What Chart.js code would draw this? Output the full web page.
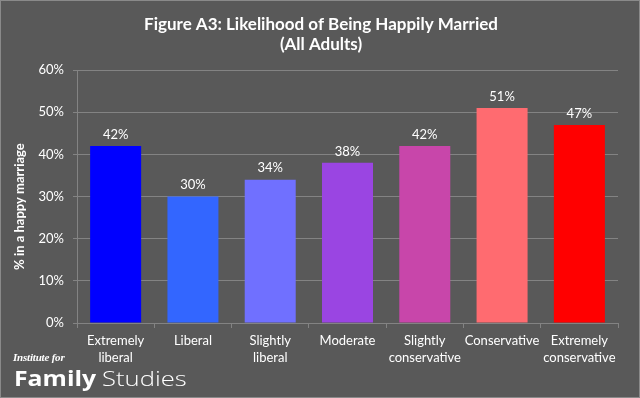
<!DOCTYPE html>
<html>
<head>
<meta charset="utf-8">
<script src="https://cdn.jsdelivr.net/npm/chart.js@4"></script>
<style>
  html, body { margin: 0; padding: 0; background: #595959; }
  #wrap { position: relative; width: 640px; height: 398px; background: #595959; border: 1px solid #8a8a8a; box-sizing: border-box; overflow: hidden; }
  #box { position: absolute; left: 0; top: 0; width: 640px; height: 398px; }
  .logo { position: absolute; color: #fff; white-space: nowrap; line-height: 1; transform-origin: left top; }
  #inst { left: 12px; top: 350px; font: italic bold 11px "Liberation Serif", serif; letter-spacing: -0.2px; }
  #fam { left: 13px; top: 363px; font: bold 21px "Open Sans", sans-serif; transform: scaleX(1.18); }
  #stu { left: 101px; top: 363px; font: 300 21px "Open Sans", sans-serif; transform: scaleX(1.22); }
</style>
</head>
<body>
<div id="wrap">
  <div id="box"><canvas id="myChart"></canvas></div>
  <div class="logo" id="inst">Institute for</div>
  <div class="logo" id="fam">Family</div>
  <div class="logo" id="stu">Studies</div>
</div>
<script>
var categories = [["Extremely", "liberal"], "Liberal", ["Slightly", "liberal"], "Moderate", ["Slightly", "conservative"], "Conservative", ["Extremely", "conservative"]];
var happyShare = [42, 30, 34, 38, 42, 51, 47];
var barColors = ["#0000ff", "#3366ff", "#7070ff", "#9a45e2", "#c846aa", "#ff6b70", "#ff0000"];
var yTicks = [0, 10, 20, 30, 40, 50, 60];
var yTitle = "% in a happy marriage";

var gridGray = "#838383";

// value labels on top of the bars + y axis title (sits a bit below centre in the original)
const extraText = {
  id: "extraText",
  afterDatasetsDraw(chart) {
    const ctx = chart.ctx;
    const meta = chart.getDatasetMeta(0);
    ctx.save();
    ctx.fillStyle = "#ffffff";
    ctx.font = "13px Lato";
    ctx.textAlign = "center";
    ctx.textBaseline = "bottom";
    meta.data.forEach((bar, i) => {
      ctx.fillText(happyShare[i] + "%", bar.x, bar.y - 5);
    });

    const area = chart.chartArea;
    ctx.font = "bold 13px Lato";
    ctx.textBaseline = "middle";
    ctx.translate(19, (area.top + area.bottom) / 2 + 10);
    ctx.rotate(-Math.PI / 2);
    ctx.fillText(yTitle, 0, 0);
    ctx.restore();
  }
};

const ctx = document.getElementById("myChart");
new Chart(ctx, {
  type: "bar",
  data: {
    labels: categories,
    datasets: [
      {
        data: happyShare,
        backgroundColor: barColors,
        borderWidth: 0,
        categoryPercentage: 1,
        barPercentage: 0.66
      }
    ]
  },
  options: {
    responsive: true,
    maintainAspectRatio: false,
    animation: false,
    layout: { padding: { left: 23, right: 23, top: 0, bottom: 0 } },
    plugins: {
      legend: { display: false },
      tooltip: { enabled: false },
      title: {
        display: true,
        text: ["Figure A3: Likelihood of Being Happily Married", "(All Adults)"],
        color: "#ffffff",
        font: { family: "'Liberation Sans Narrow', Lato", size: 17, weight: "bold", lineHeight: 1.15 },
        padding: { top: 14, bottom: 16 }
      }
    },
    scales: {
      x: {
        afterFit(scale) { scale.height = 76; },
        grid: { display: true, drawOnChartArea: false, color: gridGray, tickLength: 5, offset: true },
        border: { color: gridGray },
        ticks: { color: "#ffffff", font: { family: "Lato", size: 13, lineHeight: 1.3 }, padding: 4, maxRotation: 0, autoSkip: false }
      },
      y: {
        min: 0,
        max: 60,
        afterFit(scale) { scale.width = 53; },
        afterBuildTicks(scale) { scale.ticks = yTicks.map(v => ({ value: v })); },
        grid: { color: gridGray, tickLength: 4 },
        border: { color: gridGray },
        ticks: { color: "#ffffff", font: { family: "Lato", size: 13 }, padding: 9, callback: v => v + "%" }
      }
    }
  },
  plugins: [extraText]
});
</script>
</body>
</html>
